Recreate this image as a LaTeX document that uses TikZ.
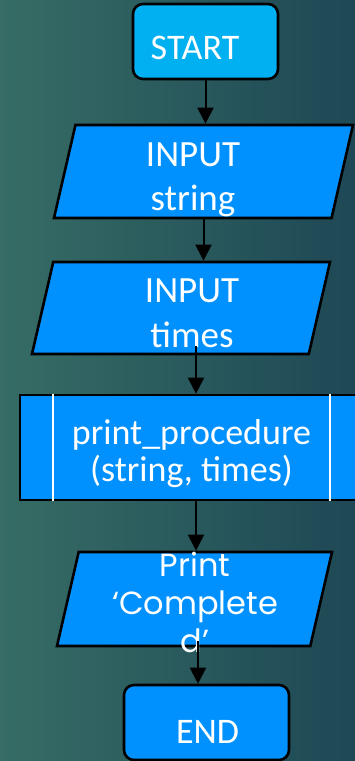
\documentclass[tikz,border=0pt]{standalone}
\usepackage{fontspec}
\setmainfont{Carlito}
\newfontfamily\printfont{Poppins}
\usetikzlibrary{shapes.geometric,arrows.meta}
\definecolor{bgleft}{RGB}{54,108,101}
\definecolor{bgright}{RGB}{30,72,85}
\definecolor{termcyan}{RGB}{0,176,240}
\definecolor{boxblue}{RGB}{0,145,255}
\tikzset{
  terminal/.style={draw=black,line width=2.6pt,rounded corners=10pt},
  iobox/.style={trapezium,trapezium left angle=77,trapezium right angle=103,
    trapezium stretches body,draw=black,line width=2.6pt,fill=boxblue,inner sep=0pt,
    text depth=0pt},
  procbox/.style={draw=black,line width=2.6pt,fill=boxblue,inner sep=0pt},
  boxtext/.style={text=white,align=center,inner sep=0pt},
  flow/.style={line width=2pt,-{Triangle[length=16pt,width=16pt]}}
}
\begin{document}
\begin{tikzpicture}[x=1pt,y=-1pt]
% Background
\useasboundingbox (0,0) rectangle (355,761);
\shade[left color=bgleft,right color=bgright] (0,0) rectangle (355,761);
% Start
\node[terminal,fill=termcyan,minimum width=145pt,minimum height=75pt] (start) at (205.5,41.5) {};
\node[boxtext,font=\fontsize{36}{43}\selectfont] (start-text) at (195,47.5) {START};
% Input boxes
\node[iobox,minimum width=299pt,text height=93pt] (string) at (203.5,171.5) {};
\node[boxtext,font=\fontsize{37}{44}\selectfont] (string-text) at (193,179.5) {INPUT\\string};
\node[iobox,minimum width=298pt,text height=92pt] (times) at (181,308) {};
\node[boxtext,font=\fontsize{37}{45}\selectfont] (times-text) at (192,313.5) {INPUT\\times};
% Procedure box with side bars
\node[procbox,minimum width=343pt,minimum height=105pt] (proc) at (191.5,447.5) {};
\draw[white,line width=2pt] ([xshift=34pt]proc.north west) -- ([xshift=34pt]proc.south west);
\draw[white,line width=2pt] ([xshift=-34pt]proc.north east) -- ([xshift=-34pt]proc.south east);
\node[boxtext,font=\fontsize{36}{37}\selectfont] (proc-text) at (191.5,454)
  {print\_procedure\\(string, times)};
% Output and end
\node[iobox,minimum width=275pt,text height=94pt] (print) at (194.5,599) {};
\node[boxtext,font=\printfont\fontsize{32}{38}\selectfont] (print-text) at (195,602)
  {Print\\‘Complete\\d’};
\node[terminal,fill=boxblue,minimum width=165pt,minimum height=75pt] (end) at (206.5,722.5) {};
\node[boxtext,font=\fontsize{36}{43}\selectfont] (end-text) at (207.5,732) {END};
% Arrows
\draw[flow] (start.south) -- (start.south |- string.north);
\draw[flow] (string.south) -- (string.south |- times.north);
\draw[flow] ([xshift=15pt,yshift=9pt]times.south) coordinate (times-out)
  -- (times-out |- proc.north);
\draw[flow] ([xshift=4.5pt]proc.south) coordinate (proc-out) -- (proc-out |- print.north);
\draw[flow] ([xshift=3.5pt,yshift=6pt]print.south) coordinate (print-out)
  -- (print-out |- end.north);
\end{tikzpicture}
\end{document}
